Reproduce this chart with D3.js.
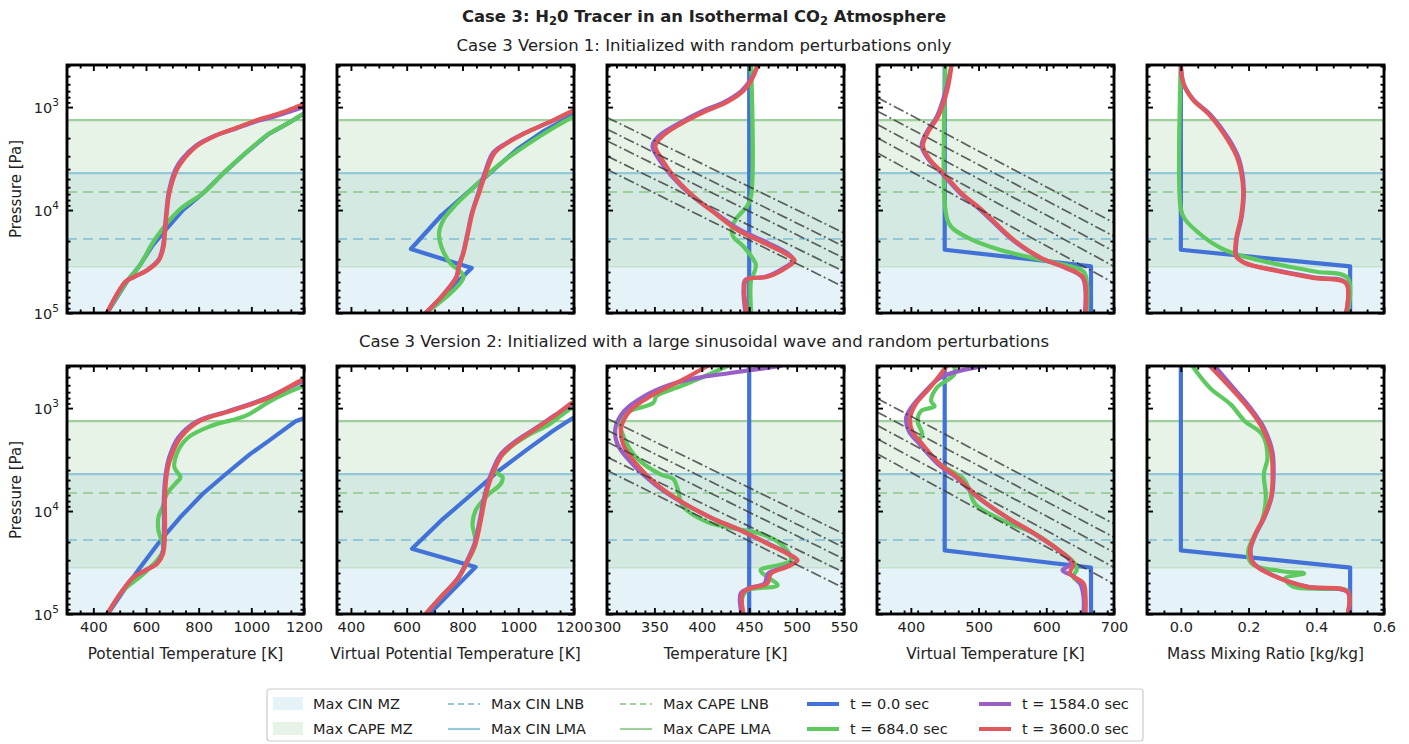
<!DOCTYPE html>
<html>
<head>
<meta charset="utf-8">
<script src="https://cdn.jsdelivr.net/npm/d3@7"></script>
<style>
  body { margin: 0; background: #fff; }
  text { font-family: "DejaVu Sans", sans-serif; fill: #222; }
</style>
</head>
<body>
<svg id="chart" width="1409" height="744"></svg>
<script>
// ---- axes set-up ----
var panelLabels = ["Potential Temperature [K]", "Virtual Potential Temperature [K]", "Temperature [K]", "Virtual Temperature [K]", "Mass Mixing Ratio [kg/kg]"];
var panelDomains = [[300, 1200], [350, 1200], [300, 550], [350, 700], [-0.1, 0.6]];
var panelTicks = [[400, 600, 800, 1000, 1200], [400, 600, 800, 1000, 1200], [300, 350, 400, 450, 500, 550], [400, 500, 600, 700], [0, 0.2, 0.4, 0.6]];
var minorSteps = [50, 50, 10, 20, 0.05];
var pressureDomain = [100000, 390];
var pressureTicks = [1000, 10000, 100000];
var seriesLabels = ["t = 0.0 sec", "t = 684.0 sec", "t = 1584.0 sec", "t = 3600.0 sec"];

// zone levels [Pa]
var capeLMA = 1340, cinLMA = 4380, capeLNB = 6680, cinLNB = 19100, capeMZBase = 35700, cinMZBase = 100000;

// ---- Version 1 profiles [value, pressure Pa] ----
var v1_pt_t0 = [[452,100000],[532,47600],[574,35300],[625,22000],[680,15000],[740,10000],[819,6790],[896,4330],[980,2770],[1065,1830],[1132,1470],[1197,1170],[1260,1000]];
var v1_pt_t684 = [[452,100000],[532,47600],[574,35300],[633,19400],[726,10000],[819,6790],[896,4330],[980,2770],[1065,1830],[1132,1470],[1197,1170],[1260,1000]];
var v1_pt_t1584 = [[452,100000],[523,49500],[557,44300],[606,38000],[648,30400],[664,22600],[670,16700],[677,10600],[686,6790],[712,4030],[736,3220],[788,2380],[858,1920],[940,1620],[1025,1360],[1095,1220],[1150,1100],[1197,1000],[1260,870]];
var v1_pt_t3600 = [[452,100000],[523,49500],[557,44300],[608,38000],[650,30400],[667,22600],[672,16700],[679,10600],[689,6790],[718,4030],[743,3220],[794,2380],[862,1900],[946,1580],[1031,1310],[1099,1170],[1149,1050],[1197,935],[1260,820]];

var v1_vpt_t0 = [[668,100000],[833,36600],[615,23900],[724,11300],[804,7320],[900,4330],[996,2570],[1093,1700],[1181,1260],[1230,1100]];
var v1_vpt_t684 = [[668,100000],[804,44300],[756,32700],[724,22600],[716,16700],[732,12400],[772,9120],[820,6790],[884,4650],[964,3100],[1061,2050],[1141,1510],[1181,1310],[1230,1150]];
var v1_vpt_t1584 = [[668,100000],[725,69300],[778,44300],[786,35300],[802,26100],[818,16700],[834,10600],[857,6790],[880,4330],[910,2770],[958,2230],[1022,1790],[1104,1430],[1181,1150],[1221,1030]];
var v1_vpt_t3600 = [[668,100000],[725,69300],[780,44300],[788,35300],[804,26100],[820,16700],[836,10600],[860,6790],[884,4330],[916,2770],[964,2210],[1028,1770],[1109,1410],[1181,1130],[1221,1010]];

var v1_t_t0 = [[450,100000],[450,390]];
var v1_t_t684 = [[452,390],[452,7320],[448,9120],[437,11900],[432,14400],[433,18000],[444,22600],[451,27200],[457,34000],[455,41000],[452,47600],[452,100000]];
var v1_t_t1584 = [[459,390],[452,533],[442,694],[423,901],[401,1090],[374,1470],[355,1900],[348,2380],[355,3220],[368,4650],[390,7320],[414,10600],[440,15500],[470,20900],[490,26100],[497,30900],[489,35300],[468,44300],[446,47600],[444,59700],[446,100000]];
var v1_t_t3600 = [[459,390],[453,533],[444,694],[426,901],[405,1090],[377,1470],[359,1900],[351,2380],[358,3220],[370,4650],[391,7320],[413,10600],[437,15500],[466,20900],[487,26100],[498,30900],[491,35300],[470,44300],[447,47600],[445,59700],[447,100000]];

var v1_vt_t0 = [[450,390],[450,24300],[583,30400],[666,35300],[666,100000]];
var v1_vt_t684 = [[451,390],[451,9880],[459,14400],[490,19400],[531,24300],[573,28500],[614,32700],[655,39500],[660,51600],[660,100000]];
var v1_vt_t1584 = [[460,390],[452,676],[439,1210],[423,1770],[416,2380],[426,3220],[446,4400],[472,6790],[503,10000],[550,19500],[592,29300],[629,36600],[654,45800],[657,100000]];
var v1_vt_t3600 = [[460,390],[454,676],[441,1210],[425,1770],[418,2380],[428,3220],[448,4400],[474,6790],[505,10000],[552,19500],[593,29300],[630,36600],[655,45800],[658,100000]];

var v1_q_t0 = [[0,390],[0,24300],[0.5,35300],[0.5,100000]];
var v1_q_t684 = [[0,390],[0,9880],[0.013,12400],[0.065,18000],[0.117,23300],[0.168,27200],[0.292,34000],[0.395,39500],[0.493,45800],[0.493,100000]];
var v1_q_t1584 = [[0,390],[0.008,594],[0.036,836],[0.09,1210],[0.142,2050],[0.172,3220],[0.186,6310],[0.18,11500],[0.165,19400],[0.165,28200],[0.19,32700],[0.29,39000],[0.39,45000],[0.488,51000],[0.488,100000]];
var v1_q_t3600 = [[0,390],[0.008,594],[0.034,836],[0.086,1210],[0.137,2050],[0.168,3220],[0.184,6310],[0.178,11500],[0.163,19400],[0.163,28200],[0.189,32700],[0.292,39500],[0.395,45800],[0.488,51600],[0.488,100000]];

// ---- Version 2 profiles ----
var v2_pt_t0 = [[455,100000],[525,54500],[575,36100],[655,19300],[730,11500],[815,6830],[900,4440],[995,2800],[1066,2080],[1168,1340],[1197,1260],[1240,1130]];
var v2_pt_t684 = [[453,100000],[512,60000],[599,39000],[665,24100],[647,15400],[647,11500],[665,8850],[679,6830],[716,5270],[731,4710],[708,3770],[716,2800],[759,1940],[847,1490],[978,1190],[1051,920],[1095,794],[1197,612],[1260,560]];
var v2_pt_t1584 = [[453,100000],[512,58600],[553,43600],[597,37600],[640,32400],[662,25900],[668,15400],[668,7360],[675,4380],[688,3020],[722,1940],[795,1340],[912,1070],[1060,794],[1197,545],[1260,490]];
var v2_pt_t3600 = [[453,100000],[512,58600],[555,43600],[599,37600],[643,32400],[665,25900],[672,15400],[672,7360],[679,4380],[694,3020],[731,1940],[803,1340],[920,1070],[1066,794],[1197,528],[1260,470]];

var v2_vpt_t0 = [[681,100000],[847,34900],[619,23200],[723,12400],[834,6830],[930,4060],[1041,2420],[1124,1670],[1193,1260],[1240,1130]];
var v2_vpt_t684 = [[668,100000],[723,68100],[785,45000],[820,30100],[847,20700],[836,13300],[847,9880],[889,7080],[937,5460],[944,4710],[917,4060],[930,3130],[986,2240],[1041,1800],[1111,1440],[1193,994],[1240,900]];
var v2_vpt_t1584 = [[668,100000],[723,68100],[783,45000],[817,30100],[843,20700],[864,11500],[878,7360],[898,4710],[938,2800],[992,2080],[1062,1570],[1132,1170],[1193,920],[1240,830]];
var v2_vpt_t3600 = [[668,100000],[723,68100],[785,45000],[820,30100],[847,20700],[868,11500],[882,7360],[903,4710],[944,2800],[999,2080],[1069,1550],[1138,1150],[1193,889],[1240,800]];

var v2_t_t0 = [[450,100000],[450,390]];
var v2_t_t684 = [[427,390],[403,491],[378,612],[352,765],[349,889],[321,1110],[314,1440],[318,1940],[331,3020],[356,4380],[370,4890],[374,5890],[381,9190],[406,12800],[430,14500],[462,16600],[483,20700],[494,30100],[462,37600],[469,43600],[480,52500],[448,58600],[443,68100],[443,100000]];
var v2_t_t1584 = [[483,390],[430,456],[395,509],[365,600],[340,760],[318,1070],[309,1550],[311,2240],[327,3500],[350,5460],[376,7930],[409,11500],[441,15400],[470,20700],[491,25900],[500,30100],[488,34900],[470,40400],[466,50500],[449,56500],[441,63100],[442,100000]];
var v2_t_t3600 = [[406,390],[377,548],[349,738],[324,1070],[315,1550],[317,2240],[331,3500],[352,5460],[377,7930],[409,11500],[441,15400],[469,20700],[490,25900],[501,30100],[490,34900],[473,40400],[469,50500],[451,56500],[443,63100],[444,100000]];

var v2_vt_t0 = [[450,390],[450,24100],[666,35400],[666,100000]];
var v2_vt_t684 = [[464,390],[464,472],[438,637],[430,855],[435,960],[415,1070],[410,1340],[417,1800],[412,2100],[443,3500],[459,4060],[478,4900],[485,5890],[495,8510],[536,12400],[583,16600],[619,24100],[642,32400],[645,37000],[640,43600],[655,54500],[655,100000]];
var v2_vt_t1584 = [[510,390],[469,440],[443,509],[420,700],[400,1000],[393,1240],[397,1670],[413,2240],[440,3500],[467,4710],[499,7360],[541,11500],[582,16600],[618,24100],[637,32400],[624,37600],[640,43000],[650,50500],[655,68100],[655,100000]];
var v2_vt_t3600 = [[453,390],[428,637],[407,920],[399,1240],[402,1670],[417,2240],[443,3500],[469,4710],[500,7360],[542,11500],[583,16600],[619,24100],[640,32400],[635,40400],[655,50500],[658,68100],[658,100000]];

var v2_q_t0 = [[0,390],[0,24100],[0.5,35400],[0.5,100000]];
var v2_q_t684 = [[0.034,390],[0.086,637],[0.147,920],[0.189,1340],[0.24,1800],[0.256,3020],[0.245,4380],[0.251,7360],[0.24,12400],[0.199,24100],[0.209,32400],[0.292,38200],[0.364,40400],[0.307,45200],[0.333,54500],[0.42,57000],[0.493,60000],[0.493,100000]];
var v2_q_t1584 = [[0.1,390],[0.155,637],[0.205,994],[0.245,1550],[0.27,2600],[0.274,4380],[0.268,7360],[0.247,11500],[0.222,16600],[0.206,24100],[0.216,32400],[0.283,43600],[0.376,54500],[0.493,61500],[0.493,100000]];
var v2_q_t3600 = [[0.086,390],[0.147,637],[0.199,994],[0.24,1550],[0.266,2600],[0.271,4380],[0.266,7360],[0.245,11500],[0.22,16600],[0.204,24100],[0.214,32400],[0.281,43600],[0.374,54500],[0.493,60900],[0.493,100000]];

// dash-dot reference lines (temperature and virtual temperature panels)
var tempAdiabats = [[[300,1260],[550,16700]], [[300,1640],[550,22600]], [[300,2130],[550,29300]], [[300,2990],[550,39500]], [[300,4030],[550,56100]]];
var virtAdiabats = [[[350,803],[700,13300]], [[350,1090],[700,18000]], [[350,1470],[700,25200]], [[350,1980],[700,35300]], [[350,2770],[700,51300]]];

var v1Panels = [
  [v1_pt_t0, v1_pt_t684, v1_pt_t1584, v1_pt_t3600],
  [v1_vpt_t0, v1_vpt_t684, v1_vpt_t1584, v1_vpt_t3600],
  [v1_t_t0, v1_t_t684, v1_t_t1584, v1_t_t3600],
  [v1_vt_t0, v1_vt_t684, v1_vt_t1584, v1_vt_t3600],
  [v1_q_t0, v1_q_t684, v1_q_t1584, v1_q_t3600]
];
var v2Panels = [
  [v2_pt_t0, v2_pt_t684, v2_pt_t1584, v2_pt_t3600],
  [v2_vpt_t0, v2_vpt_t684, v2_vpt_t1584, v2_vpt_t3600],
  [v2_t_t0, v2_t_t684, v2_t_t1584, v2_t_t3600],
  [v2_vt_t0, v2_vt_t684, v2_vt_t1584, v2_vt_t3600],
  [v2_q_t0, v2_q_t684, v2_q_t1584, v2_q_t3600]
];
var panelAdiabats = [null, null, tempAdiabats, virtAdiabats, null];

// ---- styles ----
var seriesColors = ["#4272d8", "#5ec95e", "#9860c6", "#e0585b"];
var cinFill = "rgba(173,216,230,0.32)", capeFill = "rgba(150,200,150,0.22)";
var cinLine = "#93c8d8", capeLine = "#9ed09e";

var colLeft = [67, 337, 607, 877, 1147], panelW = 237;
var rowTop = [65, 366], panelH = 248;

var svg = d3.select("#chart");

var yScale = d3.scaleLog().domain(pressureDomain).range([panelH, 0]);
var xScales = panelDomains.map(function(dom) {
  return d3.scaleLinear().domain(dom).range([0, panelW]);
});

// minor log ticks
var yMinor = [];
[100, 1000, 10000].forEach(function(dec) {
  for (var m = 2; m <= 9; m++) {
    var v = m * dec;
    if (v >= pressureDomain[1] && v <= pressureDomain[0]) yMinor.push(v);
  }
});

function drawPanel(row, col, series) {
  var x = xScales[col];
  var g = svg.append("g").attr("transform", "translate(" + colLeft[col] + "," + rowTop[row] + ")");
  var clipId = "clip-" + row + "-" + col;
  g.append("clipPath").attr("id", clipId)
    .append("rect").attr("width", panelW).attr("height", panelH);
  var inner = g.append("g").attr("clip-path", "url(#" + clipId + ")");

  // shaded zones
  inner.append("rect")
    .attr("x", 0).attr("width", panelW)
    .attr("y", yScale(cinLMA)).attr("height", yScale(cinMZBase) - yScale(cinLMA))
    .attr("fill", cinFill);
  inner.append("rect")
    .attr("x", 0).attr("width", panelW)
    .attr("y", yScale(capeLMA)).attr("height", yScale(capeMZBase) - yScale(capeLMA))
    .attr("fill", capeFill);
  inner.append("line")
    .attr("x1", 0).attr("x2", panelW)
    .attr("y1", yScale(capeMZBase)).attr("y2", yScale(capeMZBase))
    .attr("stroke", capeLine).attr("stroke-width", 1).attr("opacity", 0.5);

  // level lines
  var levels = [
    {p: capeLMA, c: capeLine, dash: null},
    {p: cinLMA, c: cinLine, dash: null},
    {p: capeLNB, c: capeLine, dash: "10,6"},
    {p: cinLNB, c: cinLine, dash: "10,6"}
  ];
  levels.forEach(function(l) {
    inner.append("line")
      .attr("x1", 0).attr("x2", panelW)
      .attr("y1", yScale(l.p)).attr("y2", yScale(l.p))
      .attr("stroke", l.c).attr("stroke-width", 2.2)
      .attr("stroke-dasharray", l.dash);
  });

  var line = d3.line()
    .x(function(d) { return x(d[0]); })
    .y(function(d) { return yScale(d[1]); });

  series.forEach(function(s, i) {
    inner.append("path")
      .datum(s)
      .attr("d", line.curve(i === 0 ? d3.curveLinear : d3.curveCatmullRom.alpha(0.5)))
      .attr("fill", "none")
      .attr("stroke", seriesColors[i])
      .attr("stroke-width", 4.2)
      .attr("stroke-linejoin", "round")
      .attr("stroke-linecap", "round");
  });

  if (panelAdiabats[col]) {
    panelAdiabats[col].forEach(function(a) {
      inner.append("path")
        .datum(a)
        .attr("d", line.curve(d3.curveLinear))
        .attr("fill", "none")
        .attr("stroke", "#3a3a3a")
        .attr("stroke-opacity", 0.8)
        .attr("stroke-width", 1.7)
        .attr("stroke-dasharray", "11,3,2,3");
    });
  }

  // ticks (inward on all sides)
  var majors = panelTicks[col];
  var dom = panelDomains[col];
  var minors = d3.range(dom[0], dom[1] + minorSteps[col] / 2, minorSteps[col]).filter(function(v) {
    return !majors.some(function(m) { return Math.abs(m - v) < 1e-9; });
  });
  var fmt = col === 4 ? d3.format(".1f") : d3.format("d");

  var bottom = g.append("g").attr("transform", "translate(0," + panelH + ")")
    .call(d3.axisBottom(x).tickValues(majors).tickSizeInner(-6).tickSizeOuter(0).tickPadding(8)
      .tickFormat(row === 1 ? fmt : function() { return ""; }));
  g.append("g").attr("transform", "translate(0," + panelH + ")")
    .call(d3.axisBottom(x).tickValues(minors).tickSizeInner(-3.5).tickSizeOuter(0).tickFormat(""));
  g.append("g")
    .call(d3.axisTop(x).tickValues(majors).tickSizeInner(-6).tickSizeOuter(0).tickFormat(""));
  g.append("g")
    .call(d3.axisTop(x).tickValues(minors).tickSizeInner(-3.5).tickSizeOuter(0).tickFormat(""));
  g.append("g")
    .call(d3.axisLeft(yScale).tickValues(pressureTicks).tickSizeInner(-6).tickSizeOuter(0).tickFormat(""));
  g.append("g")
    .call(d3.axisLeft(yScale).tickValues(yMinor).tickSizeInner(-3.5).tickSizeOuter(0).tickFormat(""));
  g.append("g").attr("transform", "translate(" + panelW + ",0)")
    .call(d3.axisRight(yScale).tickValues(pressureTicks).tickSizeInner(-6).tickSizeOuter(0).tickFormat(""));
  g.append("g").attr("transform", "translate(" + panelW + ",0)")
    .call(d3.axisRight(yScale).tickValues(yMinor).tickSizeInner(-3.5).tickSizeOuter(0).tickFormat(""));

  g.selectAll(".domain").remove();
  g.selectAll(".tick line").attr("stroke", "#000").attr("stroke-width", 1.9);
  bottom.selectAll("text")
    .attr("font-size", "14.5px")
    .attr("font-family", "DejaVu Sans, sans-serif")
    .attr("fill", "#222");

  g.append("rect")
    .attr("width", panelW).attr("height", panelH)
    .attr("fill", "none").attr("stroke", "#000").attr("stroke-width", 2.9);

  if (row === 1) {
    g.append("text")
      .attr("x", panelW / 2).attr("y", panelH + 45)
      .attr("text-anchor", "middle")
      .attr("font-size", "15.3px")
      .text(panelLabels[col]);
  }

  if (col === 0) {
    pressureTicks.forEach(function(p) {
      var t = g.append("text")
        .attr("x", -8).attr("y", yScale(p) + 6)
        .attr("text-anchor", "end")
        .attr("font-size", "14.5px");
      t.append("tspan").text("10");
      t.append("tspan").attr("font-size", "10.5px").attr("dy", -7).text(Math.round(Math.log10(p)));
    });
    g.append("text")
      .attr("transform", "translate(-46," + (panelH / 2) + ") rotate(-90)")
      .attr("text-anchor", "middle")
      .attr("font-size", "15px")
      .text("Pressure [Pa]");
  }
}

v1Panels.forEach(function(series, col) { drawPanel(0, col, series); });
v2Panels.forEach(function(series, col) { drawPanel(1, col, series); });

// titles
var title = svg.append("text")
  .attr("x", 704).attr("y", 22)
  .attr("text-anchor", "middle")
  .attr("font-size", "16.4px")
  .attr("font-weight", "bold");
title.append("tspan").text("Case 3: H");
title.append("tspan").attr("font-size", "11.5px").attr("dy", 3).text("2");
title.append("tspan").attr("dy", -3).text("0 Tracer in an Isothermal CO");
title.append("tspan").attr("font-size", "11.5px").attr("dy", 3).text("2");
title.append("tspan").attr("dy", -3).text(" Atmosphere");

svg.append("text")
  .attr("x", 704).attr("y", 51)
  .attr("text-anchor", "middle")
  .attr("font-size", "16.5px")
  .text("Case 3 Version 1: Initialized with random perturbations only");

svg.append("text")
  .attr("x", 704).attr("y", 347)
  .attr("text-anchor", "middle")
  .attr("font-size", "16.5px")
  .text("Case 3 Version 2: Initialized with a large sinusoidal wave and random perturbations");

// legend
var legend = svg.append("g");
legend.append("rect")
  .attr("x", 267).attr("y", 689).attr("width", 876).attr("height", 52)
  .attr("rx", 3)
  .attr("fill", "#fff").attr("stroke", "#ccc").attr("stroke-width", 1.2);

var legendItems = [
  {col: 0, row: 0, type: "patch", fill: cinFill, label: "Max CIN MZ"},
  {col: 0, row: 1, type: "patch", fill: capeFill, label: "Max CAPE MZ"},
  {col: 1, row: 0, type: "line", color: cinLine, width: 2.2, dash: "6,4", label: "Max CIN LNB"},
  {col: 1, row: 1, type: "line", color: cinLine, width: 2.2, dash: null, label: "Max CIN LMA"},
  {col: 2, row: 0, type: "line", color: capeLine, width: 2.2, dash: "6,4", label: "Max CAPE LNB"},
  {col: 2, row: 1, type: "line", color: capeLine, width: 2.2, dash: null, label: "Max CAPE LMA"},
  {col: 3, row: 0, type: "line", color: seriesColors[0], width: 4, dash: null, label: seriesLabels[0]},
  {col: 3, row: 1, type: "line", color: seriesColors[1], width: 4, dash: null, label: seriesLabels[1]},
  {col: 4, row: 0, type: "line", color: seriesColors[2], width: 4, dash: null, label: seriesLabels[2]},
  {col: 4, row: 1, type: "line", color: seriesColors[3], width: 4, dash: null, label: seriesLabels[3]}
];
var legendColX = [273, 448, 620, 807, 979];
var legendRowY = [704, 729];

legendItems.forEach(function(it) {
  var lx = legendColX[it.col], ly = legendRowY[it.row];
  if (it.type === "patch") {
    legend.append("rect")
      .attr("x", lx).attr("y", ly - 7).attr("width", 30).attr("height", 13)
      .attr("fill", it.fill);
  } else {
    legend.append("line")
      .attr("x1", lx).attr("x2", lx + 32)
      .attr("y1", ly).attr("y2", ly)
      .attr("stroke", it.color).attr("stroke-width", it.width)
      .attr("stroke-dasharray", it.dash);
  }
  legend.append("text")
    .attr("x", lx + (it.type === "patch" ? 40 : 43)).attr("y", ly + 5)
    .attr("font-size", "14.5px")
    .text(it.label);
});
</script>
</body>
</html>
